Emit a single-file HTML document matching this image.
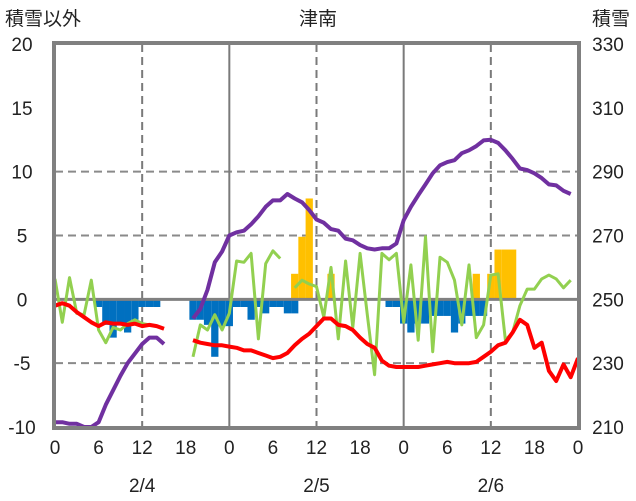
<!DOCTYPE html>
<html><head><meta charset="utf-8">
<style>
body{margin:0;background:#fff;}
svg{display:block;font-family:"Liberation Sans","Noto Sans CJK JP",sans-serif;}
</style></head>
<body>
<svg id="c" width="636" height="501" viewBox="0 0 636 501"></svg>
<script>
const hours = Array.from({length:73},(_,i)=>i);
const xTickLabels = ["0","6","12","18","0","6","12","18","0","6","12","18","0"];
const dayLabels = ["2/4","2/5","2/6"];
const leftTicks = [20,15,10,5,0,-5,-10];
const rightTicks = [330,310,290,270,250,230,210];
const N=null;
const tempVals = [-0.5,-0.3,-0.5,-1,-1.4,-1.8,-2.1,-1.8,-1.9,-1.9,-2,-1.9,-2.1,-2,-2.1,-2.3,N,N,N,
 -3.2,-3.4,-3.5,-3.6,-3.6,-3.7,-3.8,-4,-4,-4.2,-4.4,-4.6,-4.5,-4.2,-3.6,-3.1,-2.7,-2.1,-1.5,-1.5,-2,-2.1,-2.4,-3,-3.5,-3.8,-4.8,-5.2,-5.3,-5.3,
 -5.3,-5.3,-5.2,-5.1,-5,-4.9,-5,-5,-5,-4.9,-4.5,-4.1,-3.6,-3.4,-2.6,-1.6,-2,-3.8,-3.4,-5.6,-6.4,-5.1,-6.1,-4.6];
const snowDepth = [211.5,211.5,211,211,210,210,211.5,217,221.5,226,230,233,236,238,238,236,N,N,N,
 244,247,253,261.6,265,270,271,271.5,273.5,276,279,281,281,283,281.6,280.4,278,275,274,272,271.5,269,268.5,267,266,265.6,266,266,267.5,274.8,
 279,282.6,286,289.5,292,293,293.6,295.8,296.7,298,299.8,300,299,296.7,294,291,290.5,289.5,288,286,285.7,284,283,N];
const greenVals = [1.6,-1.8,1.7,-1.1,-1.2,1.5,-2.4,-3.4,-2.2,-2.4,-1.9,-1.6,-1.9,-2,-2.1,-2.3,N,N,N,
 -4.5,-2,-2.4,-1.2,-2.4,-1.1,3,2.9,3.6,-3.1,2.8,3.8,3.2,N,0.9,1.5,1.2,1,-1.4,2.5,-3.1,3,-2.2,3.6,-1.2,-5.9,3.6,3.1,3.6,-1.8,
 2.7,-3.2,4.9,-4.1,3.3,2.9,1.5,-2,2.7,-3,-2,1.9,2,-3.2,-2.6,-0.5,0.8,0.8,1.6,1.9,1.6,0.9,1.5,N];
const decVals = [0,0,0,0,0,0,-0.6,-2,-3,-2,-2.6,-1.6,-0.6,-0.6,-0.6,0,0,0,0,
 -1.6,-1.6,-2,-4.5,-2.1,-2.1,-0.6,-0.6,-1.6,-0.6,-1.1,-0.6,-0.6,-1.1,-1.1,0,0,0,0,0,0,0,0,0,0,0,0,-0.6,-0.6,-1.9,
 -2.6,-1.9,-1.9,-1.3,-1.3,-1.3,-2.6,-1.9,-1.3,-1.3,-1.3,0,0,0,0,0,0,0,0,0,0,0,0,0];
const incVals = [0,0,0,0,0,0,0,0,0,0,0,0,0,0,0,0,0,0,0,
 0,0,0,0,0,0,0,0,0,0,0,0,0,0,2,4.9,7.9,0,0,2,0,0,0,0,0,0,0,0,0,0,
 0,0,0,0,0,0,0,0,0,2,0,2,3.9,3.9,3.9,0,0,0,0,0,0,0,0,0];

const X0=55,X1=578,Y0=44,Y1=427;
const xS=h=>X0+h*(X1-X0)/72;
const yL=v=>Y1-(v+10)*(Y1-Y0)/30;
const yR=s=>Y1-(s-210)*(Y1-Y0)/120;
const svg=document.getElementById('c');
const NS='http://www.w3.org/2000/svg';
function mk(t,a){const e=document.createElementNS(NS,t);for(const k in a)e.setAttribute(k,a[k]);svg.appendChild(e);return e;}

// gridlines
[10,5,-5].forEach(v=>{const g=mk('line',{x1:X0,x2:X1,y1:yL(v),y2:yL(v),stroke:'#8a8a8a','stroke-width':2,'stroke-dasharray':'8,5'});

});
[12,36,60].forEach(h=>{const g=mk('line',{x1:xS(h),x2:xS(h),y1:Y0,y2:Y1,stroke:'#7a7a7a','stroke-width':2,'stroke-dasharray':'8,5'});

});
[24,48].forEach(h=>{const g=mk('line',{x1:xS(h),x2:xS(h),y1:Y0,y2:Y1,stroke:'#7a7a7a','stroke-width':2});

});

// bars
const bw=(X1-X0)/72;
decVals.forEach((v,i)=>{if(v<0){const r=mk('rect',{x:xS(i)-bw/2,y:yL(0),width:bw,height:yL(v)-yL(0),fill:'#0070c0'});

}});
incVals.forEach((v,i)=>{if(v>0){const r=mk('rect',{x:xS(i)-bw/2,y:yL(v),width:bw,height:yL(0)-yL(v),fill:'#ffc000'});

}});

const z=mk('line',{x1:X0,x2:X1,y1:yL(0),y2:yL(0),stroke:'#808080','stroke-width':3});



function line(vals,fy,color,w,name){let d='',pen=false;
vals.forEach((v,i)=>{if(v===null){pen=false;return;}d+=(pen?'L':'M')+xS(i).toFixed(1)+','+fy(v).toFixed(1);pen=true;});
const p=mk('path',{d:d,fill:'none',stroke:color,'stroke-width':w,'stroke-linejoin':'round'});

}
line(greenVals,yL,'#92d050',3,'green-series-line');
line(tempVals,yL,'#ff0000',4,'temperature-line');
line(snowDepth,yR,'#7030a0',4,'snow-depth-line');

// frame
const f=mk('rect',{x:X0-1,y:Y0-1,width:X1-X0+2,height:Y1-Y0+2,fill:'none',stroke:'#808080','stroke-width':4});



function txt(x,y,s,anchor,name,size){const t=mk('text',{x:x,y:y,'text-anchor':anchor,'font-size':size||19,fill:'#222'});t.textContent=s;

return t;}
leftTicks.forEach(v=>txt(22,yL(v)+7,String(v),'middle','left-tick-label'));
rightTicks.forEach(v=>txt(608,yR(v)+7,String(v),'middle','right-tick-label'));
xTickLabels.forEach((s,i)=>txt(xS(i*6),454,s,'middle','x-tick-label'));
dayLabels.forEach((s,i)=>txt(xS(12+24*i),492,s,'middle','day-label'));
txt(5,25,'積雪以外','start','left-axis-title',19);
txt(318,25,'津南','middle','chart-title',19);
txt(630,25,'積雪','end','right-axis-title',19);
</script>
</body></html>
